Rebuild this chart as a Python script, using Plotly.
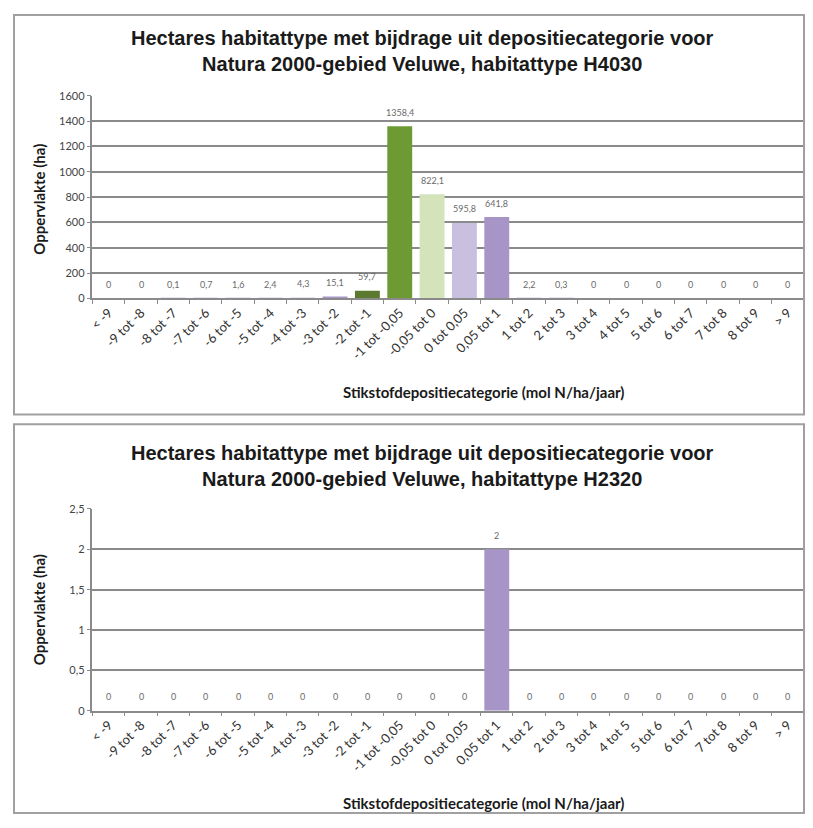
import plotly.graph_objects as go

categories = ["< -9", "-9 tot -8", "-8 tot -7", "-7 tot -6", "-6 tot -5", "-5 tot -4",
              "-4 tot -3", "-3 tot -2", "-2 tot -1", "-1 tot -0,05", "-0,05 tot 0",
              "0 tot 0,05", "0,05 tot 1", "1 tot 2", "2 tot 3", "3 tot 4", "4 tot 5",
              "5 tot 6", "6 tot 7", "7 tot 8", "8 tot 9", "> 9"]
values_h4030 = [0, 0, 0.1, 0.7, 1.6, 2.4, 4.3, 15.1, 59.7, 1358.4, 822.1, 595.8, 641.8,
                2.2, 0.3, 0, 0, 0, 0, 0, 0, 0]
values_h2320 = [0, 0, 0, 0, 0, 0, 0, 0, 0, 0, 0, 0, 2, 0, 0, 0, 0, 0, 0, 0, 0, 0]
titles = ["Hectares habitattype met bijdrage uit depositiecategorie voor<br>Natura 2000-gebied Veluwe, habitattype H4030",
          "Hectares habitattype met bijdrage uit depositiecategorie voor<br>Natura 2000-gebied Veluwe, habitattype H2320"]
y_ticks_top = [0, 200, 400, 600, 800, 1000, 1200, 1400, 1600]
y_ticks_bottom = [0, 0.5, 1, 1.5, 2, 2.5]

color_map = {
    "-2 tot -1": "#5b7a30",
    "-1 tot -0,05": "#6e9a34",
    "-0,05 tot 0": "#d5e3bb",
    "0 tot 0,05": "#c8c0de",
    "0,05 tot 1": "#a895c8",
}
colors = [color_map.get(c, "#a895c8") for c in categories]

OFF = 8  # default page body margin
W, H = 813 - 2 * OFF, 828 - 2 * OFF
def px(x): return min(max((x - OFF) / W, 0), 1)
def py(y): return min(max(1 - (y - OFF) / H, 0), 1)

def fmt(v):
    return f"{v:g}".replace(".", ",")

fig = go.Figure()
FONT = "Lato, Open Sans, sans-serif"

panels = [
    dict(vals=values_h4030, ticks=y_ticks_top, rng=[0, 1600], plot=(90, 296), box=(8, 414), title_y=45, xtitle_y=391, ytitle_y=195),
    dict(vals=values_h2320, ticks=y_ticks_bottom, rng=[0, 2.5], plot=(510, 715), box=(424, 819), title_y=466, xtitle_y=809, ytitle_y=612),
]

for i, p in enumerate(panels):
    xa = "x" if i == 0 else "x2"
    ya = "y" if i == 0 else "y2"
    fig.add_trace(go.Bar(
        x=categories, y=p["vals"], xaxis=xa, yaxis=ya,
        marker=dict(color=colors, line=dict(width=0)),
        showlegend=False, hoverinfo="x+y",
    ))
    # data labels, placed through the axes
    for c, v in zip(categories, p["vals"]):
        fig.add_annotation(x=c, y=v, xref=xa, yref=ya, text=fmt(v), showarrow=False,
                           yanchor="middle", yshift=14,
                           font=dict(family=FONT, size=9, color="#6a6a6a"))
    axis_x = dict(
        domain=[px(88), px(804)], type="category", tickangle=-45,
        tickfont=dict(family=FONT, size=13, color="#333333"),
        showline=True, linecolor="#8a8a8a", linewidth=1.5,
        ticks="outside", ticklen=4, tickcolor="#8a8a8a", tickson="boundaries",
        showgrid=False, anchor=ya,
    )
    axis_y = dict(
        domain=[py(p["plot"][1]), py(p["plot"][0])], range=p["rng"],
        tickvals=p["ticks"], tickfont=dict(family=FONT, size=11, color="#444444"),
        showline=True, linecolor="#8a8a8a", linewidth=1.5,
        ticks="outside", ticklen=4, tickcolor="#8a8a8a",
        showgrid=True, gridcolor="#8a8a8a", gridwidth=1.5, zeroline=False,
        anchor=xa,
    )
    if i == 0:
        fig.update_layout(xaxis=axis_x, yaxis=axis_y)
    else:
        fig.update_layout(xaxis2=axis_x, yaxis2=axis_y)

    fig.add_shape(type="rect", xref="paper", yref="paper",
                  x0=px(9), x1=px(804), y0=py(p["box"][1]), y1=py(p["box"][0]),
                  line=dict(color="#a0a0a0", width=2), fillcolor="rgba(0,0,0,0)")
    fig.add_annotation(text="<b>" + titles[i].replace("<br>", "</b><br><b>") + "</b>",
                       xref="paper", yref="paper",
                       x=px(420), y=py(p["title_y"]),
                       xanchor="center", yanchor="middle", showarrow=False,
                       font=dict(family="Liberation Sans, Arial, sans-serif", size=20, color="#1a1a1a"))
    fig.add_annotation(text="<b>Stikstofdepositiecategorie (mol N/ha/jaar)</b>", xref="paper", yref="paper",
                       x=px(481), y=py(p["xtitle_y"]), xanchor="center", yanchor="middle",
                       showarrow=False, font=dict(family=FONT, size=15, color="#1a1a1a"))
    fig.add_annotation(text="<b>Oppervlakte (ha)</b>", xref="paper", yref="paper",
                       x=px(34), y=py(p["ytitle_y"]), xanchor="center", yanchor="middle",
                       textangle=-90, showarrow=False, font=dict(family=FONT, size=15, color="#1a1a1a"))

fig.update_layout(
    width=W, height=H, margin=dict(l=0, r=0, t=0, b=0),
    paper_bgcolor="white", plot_bgcolor="white",
    bargap=0.23, separators=",.",
    font=dict(family=FONT),
)

fig.write_html("out.html")
